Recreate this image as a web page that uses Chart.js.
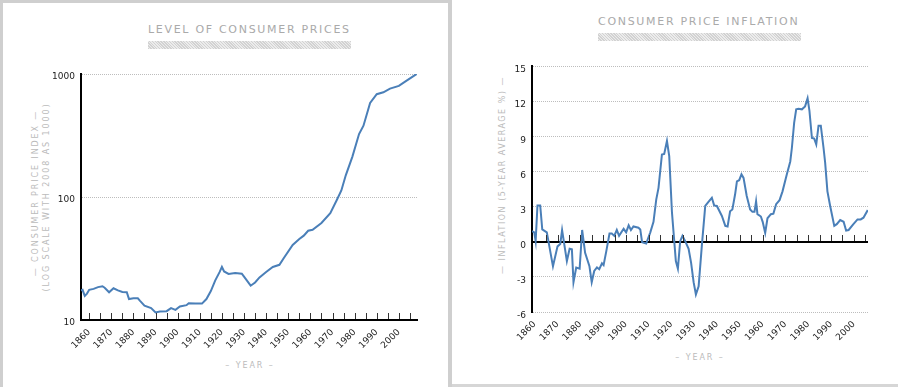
<!DOCTYPE html>
<html>
<head>
<meta charset="utf-8">
<script src="https://cdn.jsdelivr.net/npm/chart.js@4.4.1/dist/chart.umd.min.js"></script>
<style>
body{margin:0;width:898px;height:387px;background:#fff;position:relative;overflow:hidden;font-family:"DejaVu Sans",Verdana,sans-serif;}
.abs{position:absolute;}
#leftPanel{left:0;top:0;width:448px;height:387px;box-sizing:border-box;border-top:3px solid #cfcfcf;border-left:3px solid #cfcfcf;}
#band{left:448px;top:0;width:4px;height:387px;background:#cfcfcf;}
#rightBottom{left:452px;top:384px;width:446px;height:3px;background:#d6d6d6;}
.title{font-size:11px;letter-spacing:1.7px;color:#aaa;white-space:nowrap;}
.bar{height:8px;background:repeating-linear-gradient(45deg,#d2d2d2 0 1px,#ececec 1px 2px);}
.axt{font-size:8px;letter-spacing:1.9px;color:#bbb;white-space:nowrap;transform:translate(-50%,-50%);}
.rot{transform:translate(-50%,-50%) rotate(-90deg);}
canvas{position:absolute;}
</style>
</head>
<body>
<div id="leftPanel" class="abs"></div>
<div id="band" class="abs"></div>
<div id="rightBottom" class="abs"></div>

<div class="abs title" style="left:148px;top:23px;">LEVEL OF CONSUMER PRICES</div>
<div class="abs bar" style="left:148px;top:41px;width:203px;"></div>
<div class="abs title" style="left:598px;top:15px;">CONSUMER PRICE INFLATION</div>
<div class="abs bar" style="left:598px;top:33px;width:203px;"></div>

<div class="abs axt rot" style="left:35px;top:193px;">— CONSUMER PRICE INDEX —</div>
<div class="abs axt rot" style="left:46px;top:197px;">(LOG SCALE WITH 2008 AS 1000)</div>
<div class="abs axt" style="left:250px;top:365px;">– YEAR –</div>

<div class="abs axt rot" style="left:502px;top:175px;letter-spacing:1.5px;">— INFLATION (5-YEAR AVERAGE %) —</div>
<div class="abs axt" style="left:700px;top:357px;">– YEAR –</div>

<canvas id="cpiChart" width="448" height="387" style="left:0;top:0;"></canvas>
<canvas id="inflChart" width="446" height="384" style="left:452px;top:0;"></canvas>

<script>
// ---- data ----
const cpiYears = [1856,1857,1858,1859,1860,1862,1864,1866,1867,1869,
1871,1873,1875,1877,1878,1880,1882,1883,1885,1888,
1890,1892,1895,1897,1899,1901,1904,1905,1908,1911,
1913,1915,1917,1919,1920,1921,1923,1926,1929,1930,
1933,1935,1937,1940,1943,1946,1948,1952,1955,1957,
1959,1961,1965,1969,1972,1974,1976,1979,1982,1984,
1987,1990,1993,1996,2000,2003,2008];
const cpiIndex = [17.4,17.6,15.7,16.4,17.6,17.9,18.5,18.8,18.3,16.8,
18.1,17.4,16.9,16.8,14.8,15.0,15.0,14.3,13.1,12.5,
11.5,11.7,11.8,12.5,12.1,12.9,13.2,13.7,13.6,13.6,
14.8,17.2,21.0,24.6,27.0,24.8,23.7,24.1,23.8,22.5,
19.0,20.2,22.2,24.6,27.0,28.1,31.9,40.8,45.5,48.5,
53.2,54.2,61.5,74,95,113,150,213,325,380,
581,685,710,760,800,870,1000];

const inflYears = [1858.8,1859.8,1860.4,1861.2,1862.4,1863.3,1865.3,1866.0,1868.0,1870.0,
1871.2,1872.0,1874.1,1875.3,1876.3,1877.0,1878.2,1879.7,1880.8,1882.1,
1884.0,1885.0,1886.1,1887.3,1888.3,1889.5,1890.2,1891.4,1892.8,1893.8,
1894.9,1896.0,1897.0,1899.0,1900.1,1901.2,1902.2,1903.3,1905.5,1906.3,
1907.1,1908.9,1910.7,1912.1,1913.3,1914.3,1915.8,1916.8,1918.0,1919.0,
1920.2,1921.9,1922.8,1923.8,1924.8,1926.0,1927.5,1928.6,1929.7,1930.7,
1931.9,1933.3,1934.8,1936.2,1937.7,1938.7,1939.9,1942.1,1943.6,1944.6,
1945.7,1946.7,1947.9,1948.7,1949.7,1950.7,1951.6,1953.0,1954.5,1955.5,
1956.4,1957.1,1957.7,1959.2,1960.0,1961.1,1962.1,1963.6,1964.7,1965.9,
1967.4,1968.7,1970.6,1972.1,1972.8,1973.8,1974.7,1975.7,1977.2,1978.6,
1979.7,1980.5,1981.6,1982.6,1983.5,1984.5,1985.5,1986.7,1987.4,1988.4,
1989.6,1991.4,1992.5,1994.0,1995.5,1996.6,1997.7,1999.8,2001.6,2003.0,
2004.2,2006.1];
const inflRate = [0.9,0.8,0.05,3.1,3.1,1.05,0.8,0.05,-2.1,-0.4,
-0.2,1.0,-1.65,-0.6,-0.65,-3.45,-2.2,-2.3,1.0,-0.95,
-2.1,-3.45,-2.5,-2.2,-2.35,-1.85,-2.0,-0.8,0.7,0.7,
0.5,1.0,0.5,1.1,0.8,1.4,1.0,1.3,1.2,1.05,
-0.05,-0.15,0.8,1.7,3.6,4.6,7.45,7.5,8.6,7.3,
2.5,-1.65,-2.3,0.05,0.5,0.05,-0.6,-1.8,-3.45,-4.5,
-3.8,-0.35,3.05,3.4,3.75,3.1,3.05,2.2,1.35,1.3,
2.6,2.75,4.05,5.15,5.25,5.75,5.45,3.9,2.75,2.55,
2.55,3.45,2.35,2.15,1.7,0.75,2.0,2.35,2.4,3.2,
3.55,4.3,5.75,6.85,8.0,10.15,11.3,11.35,11.3,11.55,
12.25,11.2,8.85,8.8,8.3,9.9,9.9,8.0,6.75,4.3,
3.05,1.35,1.5,1.85,1.7,0.95,1.0,1.5,1.9,1.9,
2.05,2.7];

// tick labels
const yearLabels = [1860,1870,1880,1890,1900,1910,1920,1930,1940,1950,1960,1970,1980,1990,2000];
const cpiTicks = [10,100,1000];
const inflTicks = [-6,-3,0,3,6,9,12,15];
const cpiMarks = [1860,1865,1870,1875,1880,1885,1890,1895,1900,1905,1910,1915,1920,1925,1930,1935,1940,1945,1950,1955,1960,1965,1970,1975,1980,1985,1990,1995,2000,2005];
const inflMarks = [1865,1870,1875,1880,1885,1890,1895,1900,1905,1910,1915,1920,1925,1930,1935,1940,1945,1950,1955,1960,1965,1970,1975,1980,1985,1990,1995,2000,2005];

const lineColor = "#4a7fb8";
const tickFont = {family:"DejaVu Sans", size:9};

// =============================
// small year marks
// =============================
function yearMarks(years, base){
return {
id: "yearMarks",
afterDraw(chart){
try{
const ctx = chart.ctx;
const xs = chart.scales.x;
const y = Math.round(chart.scales.y.getPixelForValue(base));
ctx.save();
ctx.setLineDash([]);
ctx.globalAlpha = 1;
ctx.strokeStyle = "#333";
ctx.lineWidth = 1;
ctx.beginPath();
for(let i = 0; i < years.length; i++){
const x = Math.round(xs.getPixelForValue(years[i])) + 0.5;
ctx.moveTo(x, y - 1);
ctx.lineTo(x, y - 7);
}
ctx.stroke();
ctx.restore();
}catch(e){ console.error(e); }
}
};
}

// zero line of the inflation chart
const zeroLine = {
id: "zeroLine",
beforeDatasetsDraw(chart){
const ctx = chart.ctx;
const y = Math.round(chart.scales.y.getPixelForValue(0));
const area = chart.chartArea;
ctx.save();
ctx.strokeStyle = "#000";
ctx.lineWidth = 2;
ctx.beginPath();
ctx.moveTo(area.left, y);
ctx.lineTo(area.right, y);
ctx.stroke();
ctx.restore();
}
};

// =============================
// LEVEL OF CONSUMER PRICES
// =============================
new Chart(document.getElementById("cpiChart"), {
type: "line",
data: {datasets: [{data: cpiYears.map((yr, i) => ({x: yr, y: cpiIndex[i]})), borderColor: lineColor, borderWidth: 2, pointRadius: 0}]},
options: {
responsive: false, animation: false,
layout: {padding: {top: 74, right: 31, left: 0, bottom: 0}},
plugins: {legend: {display: false}, tooltip: {enabled: false}},
scales: {
x: {type: "linear", min: 1856.3, max: 2008.2,
afterBuildTicks: s => { s.ticks = yearLabels.map(v => ({value: v})); },
afterFit: s => { s.height = 67; },
grid: {display: false, drawTicks: false},
border: {color: "#000", width: 2},
ticks: {autoSkip: false, minRotation: 45, maxRotation: 45, padding: 7, color: "#222", font: tickFont, callback: v => String(v)}},
y: {type: "logarithmic", min: 10, max: 1000,
afterBuildTicks: s => { s.ticks = cpiTicks.map(v => ({value: v})); },
afterFit: s => { s.width = 81; },
grid: {drawTicks: false, color: c => (c.tick && c.tick.value === 10) ? "rgba(0,0,0,0)" : "#bdbdbd"},
border: {color: "#000", width: 2, dash: [1, 1]},
ticks: {padding: 6, labelOffset: 3, color: "#222", font: tickFont, callback: v => String(v)}}
}
},
plugins: [yearMarks(cpiMarks, 10)]
});

// =============================
// CONSUMER PRICE INFLATION
// =============================
new Chart(document.getElementById("inflChart"), {
type: "line",
data: {datasets: [{data: inflYears.map((yr, i) => ({x: yr, y: inflRate[i]})), borderColor: lineColor, borderWidth: 2, pointRadius: 0}]},
options: {
responsive: false, animation: false,
layout: {padding: {top: 66, right: 30, left: 0, bottom: 0}},
plugins: {legend: {display: false}, tooltip: {enabled: false}},
scales: {
x: {type: "linear", min: 1858.8, max: 2006.2,
afterBuildTicks: s => { s.ticks = yearLabels.map(v => ({value: v})); },
afterFit: s => { s.height = 72; },
grid: {display: false, drawTicks: false},
border: {display: false},
ticks: {autoSkip: false, minRotation: 45, maxRotation: 45, padding: 7, color: "#222", font: tickFont, callback: v => String(v)}},
y: {min: -6, max: 15,
afterBuildTicks: s => { s.ticks = inflTicks.map(v => ({value: v})); },
afterFit: s => { s.width = 80; },
grid: {drawTicks: false, color: c => (c.tick && c.tick.value === 0) ? "rgba(0,0,0,0)" : "#bdbdbd"},
border: {color: "#000", width: 2, dash: [1, 1]},
ticks: {padding: 6, labelOffset: 4, color: "#222", font: tickFont, callback: v => String(v)}}
}
},
plugins: [zeroLine, yearMarks(inflMarks, 0)]
});
</script>
</body>
</html>
